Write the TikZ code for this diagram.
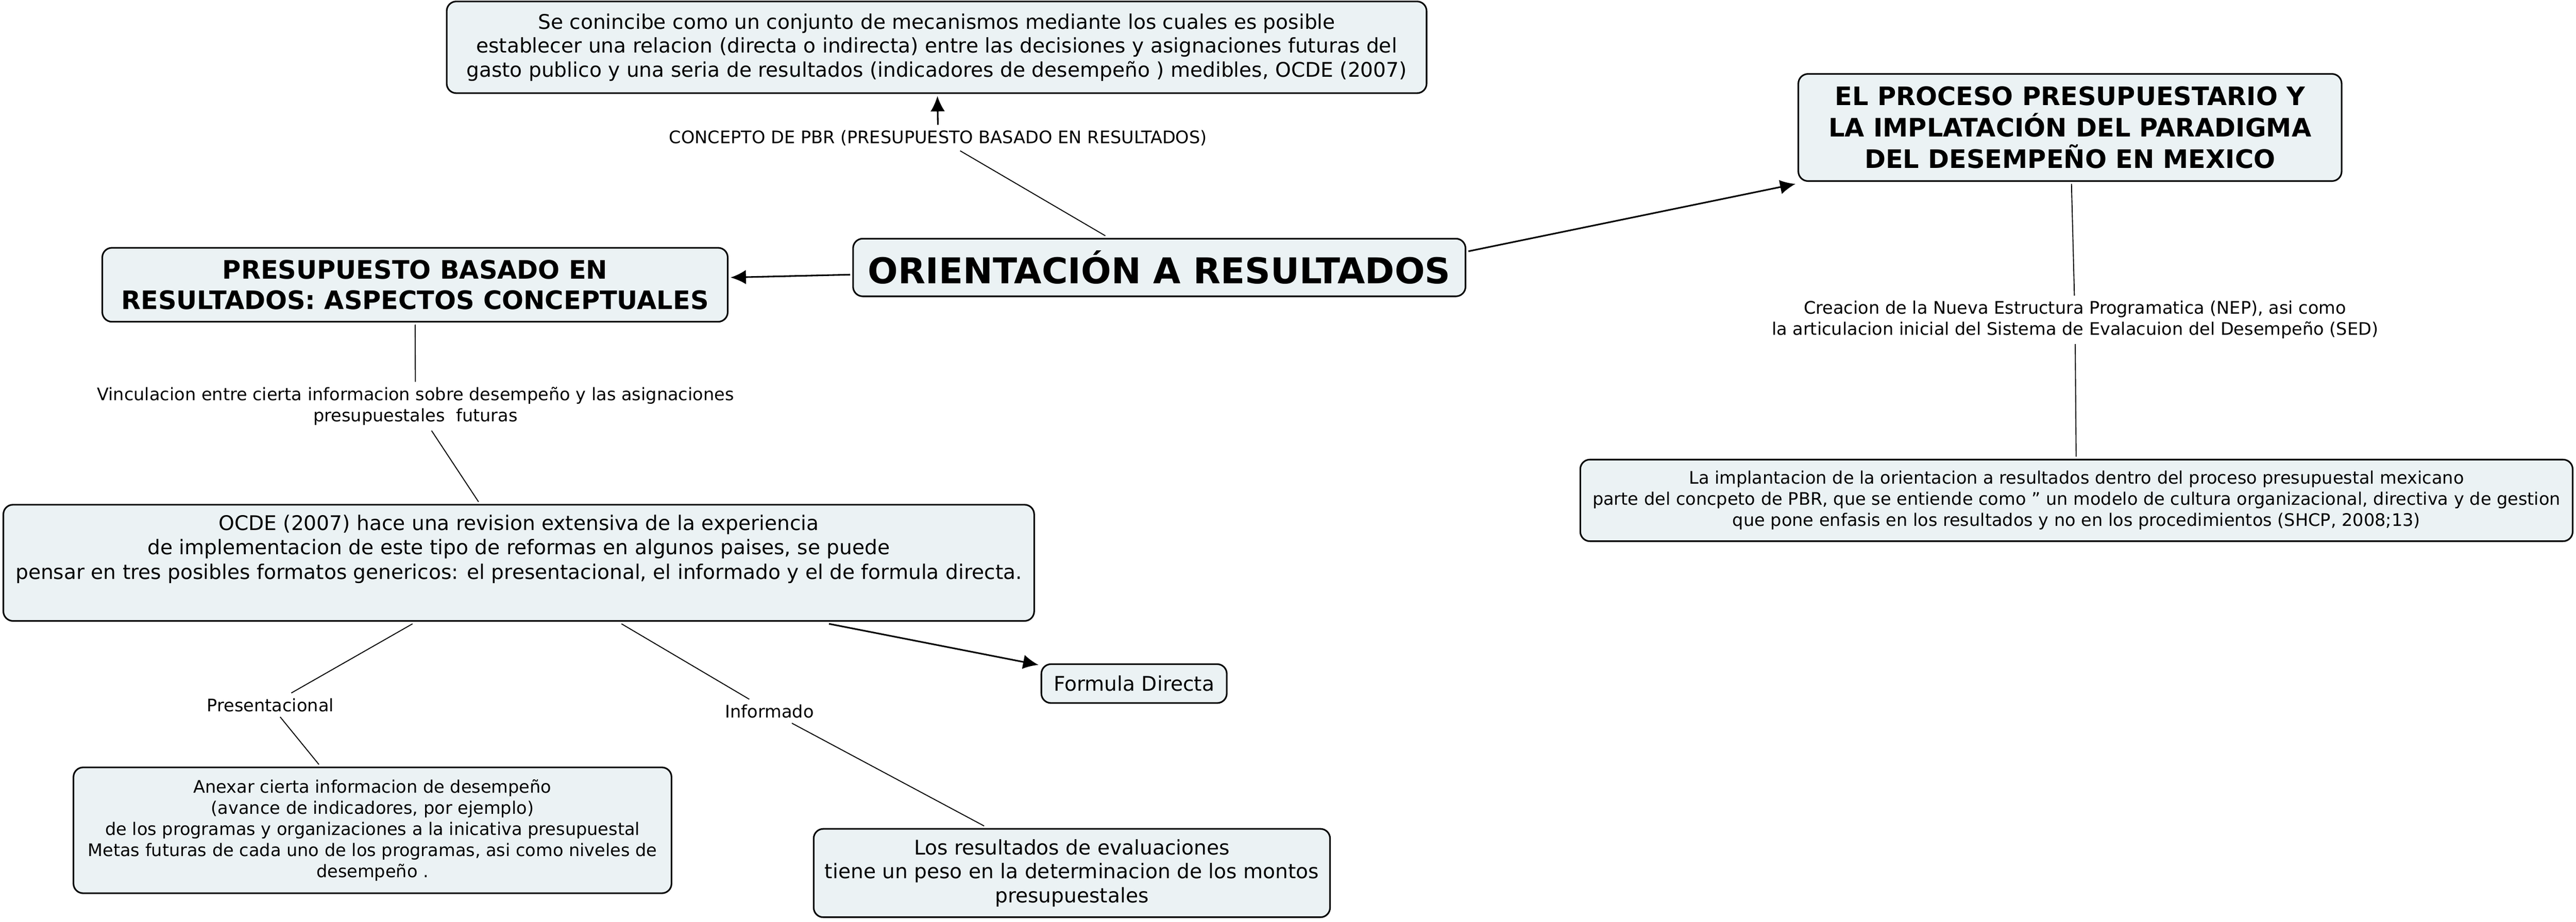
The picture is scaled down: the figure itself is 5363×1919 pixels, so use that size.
\documentclass[tikz,border=0pt]{standalone}
\usepackage{fontspec}
\setmainfont{DejaVu Sans}
\usetikzlibrary{arrows.meta}
\definecolor{boxfill}{RGB}{235,242,244}

\tikzset{every picture/.style={line width=2pt},
  cbox/.style={draw, line width=3.3pt, rounded corners=20pt, fill=boxfill, align=center, inner sep=0pt, outer sep=6pt},
  lbl/.style={align=center, inner sep=10pt, font=\fontsize{36}{44}\selectfont},
  link/.style={line width=2pt},
  arr/.style={line width=3.3pt, -{Latex[length=32pt,width=30pt]}}}

\begin{document}
\begin{tikzpicture}[x=1pt,y=1pt,yscale=-1]
\useasboundingbox (0,0) rectangle (5363,1919);

%Shape: Rounded Rectangle
\node [cbox, minimum width=2040, minimum height=191, font=\fontsize{42}{50}\selectfont] (defn) at (1950,98.5) {Se conincibe como un conjunto de mecanismos mediante los cuales es posible\\establecer una relacion (directa o indirecta) entre las decisiones y asignaciones futuras del\\gasto publico y una seria de resultados (indicadores de desempeño ) medibles, OCDE (2007)};
%Shape: Rounded Rectangle
\node [cbox, minimum width=1275, minimum height=120, font=\fontsize{74}{80}\selectfont\bfseries] (orient) at (2413.5,557) {ORIENTACIÓN A RESULTADOS};
%Shape: Rounded Rectangle
\node [cbox, minimum width=1302, minimum height=154, font=\fontsize{53}{64}\selectfont\bfseries] (pbr) at (864,593) {PRESUPUESTO BASADO EN\\RESULTADOS: ASPECTOS CONCEPTUALES};
%Shape: Rounded Rectangle
\node [cbox, minimum width=1131, minimum height=223, font=\fontsize{53}{65}\selectfont\bfseries] (proc) at (4309.5,265.5) {EL PROCESO PRESUPUESTARIO Y\\LA IMPLATACIÓN DEL PARADIGMA\\DEL DESEMPEÑO EN MEXICO};
%Shape: Rounded Rectangle
\node [cbox, minimum width=2066, minimum height=170, font=\fontsize{36}{44}\selectfont] (impl) at (4323,1042) {La implantacion de la orientacion a resultados dentro del proceso presupuestal mexicano\\parte del concpeto de PBR, que se entiende como " un modelo de cultura organizacional, directiva y de gestion\\que pone enfasis en los resultados y no en los procedimientos (SHCP, 2008;13)};
%Shape: Rounded Rectangle
\node [cbox, minimum width=2146, minimum height=242, font=\fontsize{42}{51}\selectfont] (ocde) at (1080,1172) {OCDE (2007) hace una revision extensiva de la experiencia\\de implementacion de este tipo de reformas en algunos paises, se puede\\pensar en tres posibles formatos genericos: el presentacional, el informado y el de formula directa.\\\strut};
%Shape: Rounded Rectangle
\node [cbox, minimum width=386, minimum height=81, font=\fontsize{42}{50}\selectfont] (formula) at (2361,1423.5) {Formula Directa};
%Shape: Rounded Rectangle
\node [cbox, minimum width=1245, minimum height=262, font=\fontsize{36}{44}\selectfont] (anexar) at (775.5,1729) {Anexar cierta informacion de desempeño\\(avance de indicadores, por ejemplo)\\de los programas y organizaciones a la inicativa presupuestal\\Metas futuras de cada uno de los programas, asi como niveles de\\desempeño .};
%Shape: Rounded Rectangle
\node [cbox, minimum width=1075, minimum height=184, font=\fontsize{42}{50}\selectfont] (result) at (2231.5,1818) {Los resultados de evaluaciones\\tiene un peso en la determinacion de los montos\\presupuestales};

% Text Node
\node [lbl] (lconc) at (1953,287) {CONCEPTO DE PBR (PRESUPUESTO BASADO EN RESULTADOS)};
% Text Node
\node [lbl] (lvinc) at (865,846) {Vinculacion entre cierta informacion sobre desempeño y las asignaciones\\presupuestales \ futuras};
% Text Node
\node [lbl] (lcrea) at (4320,666) {Creacion de la Nueva Estructura Programatica (NEP), asi como\\la articulacion inicial del Sistema de Evalacuion del Desempeño (SED)};
% Text Node
\node [lbl] (lpres) at (563,1468) {Presentacional};
% Text Node
\node [lbl] (linfo) at (1602,1481) {Informado};

%Straight Lines
\draw [link] (orient) -- (lconc);
\draw [arr] (lconc) -- (defn);
\draw [arr] (orient) -- (pbr);
\draw [arr] (orient.3) -- (proc.south west);
\draw [link] (pbr) -- (lvinc);
\draw [link] (lvinc) -- (ocde);
\draw [link] (proc) -- (lcrea);
\draw [link] (lcrea) -- (impl);
\draw [link] (ocde) -- (lpres);
\draw [link] (lpres) -- (anexar);
\draw [link] (ocde) -- (linfo);
\draw [link] (linfo) -- (result);
\draw [arr] (ocde) -- (formula);
\end{tikzpicture}
\end{document}
